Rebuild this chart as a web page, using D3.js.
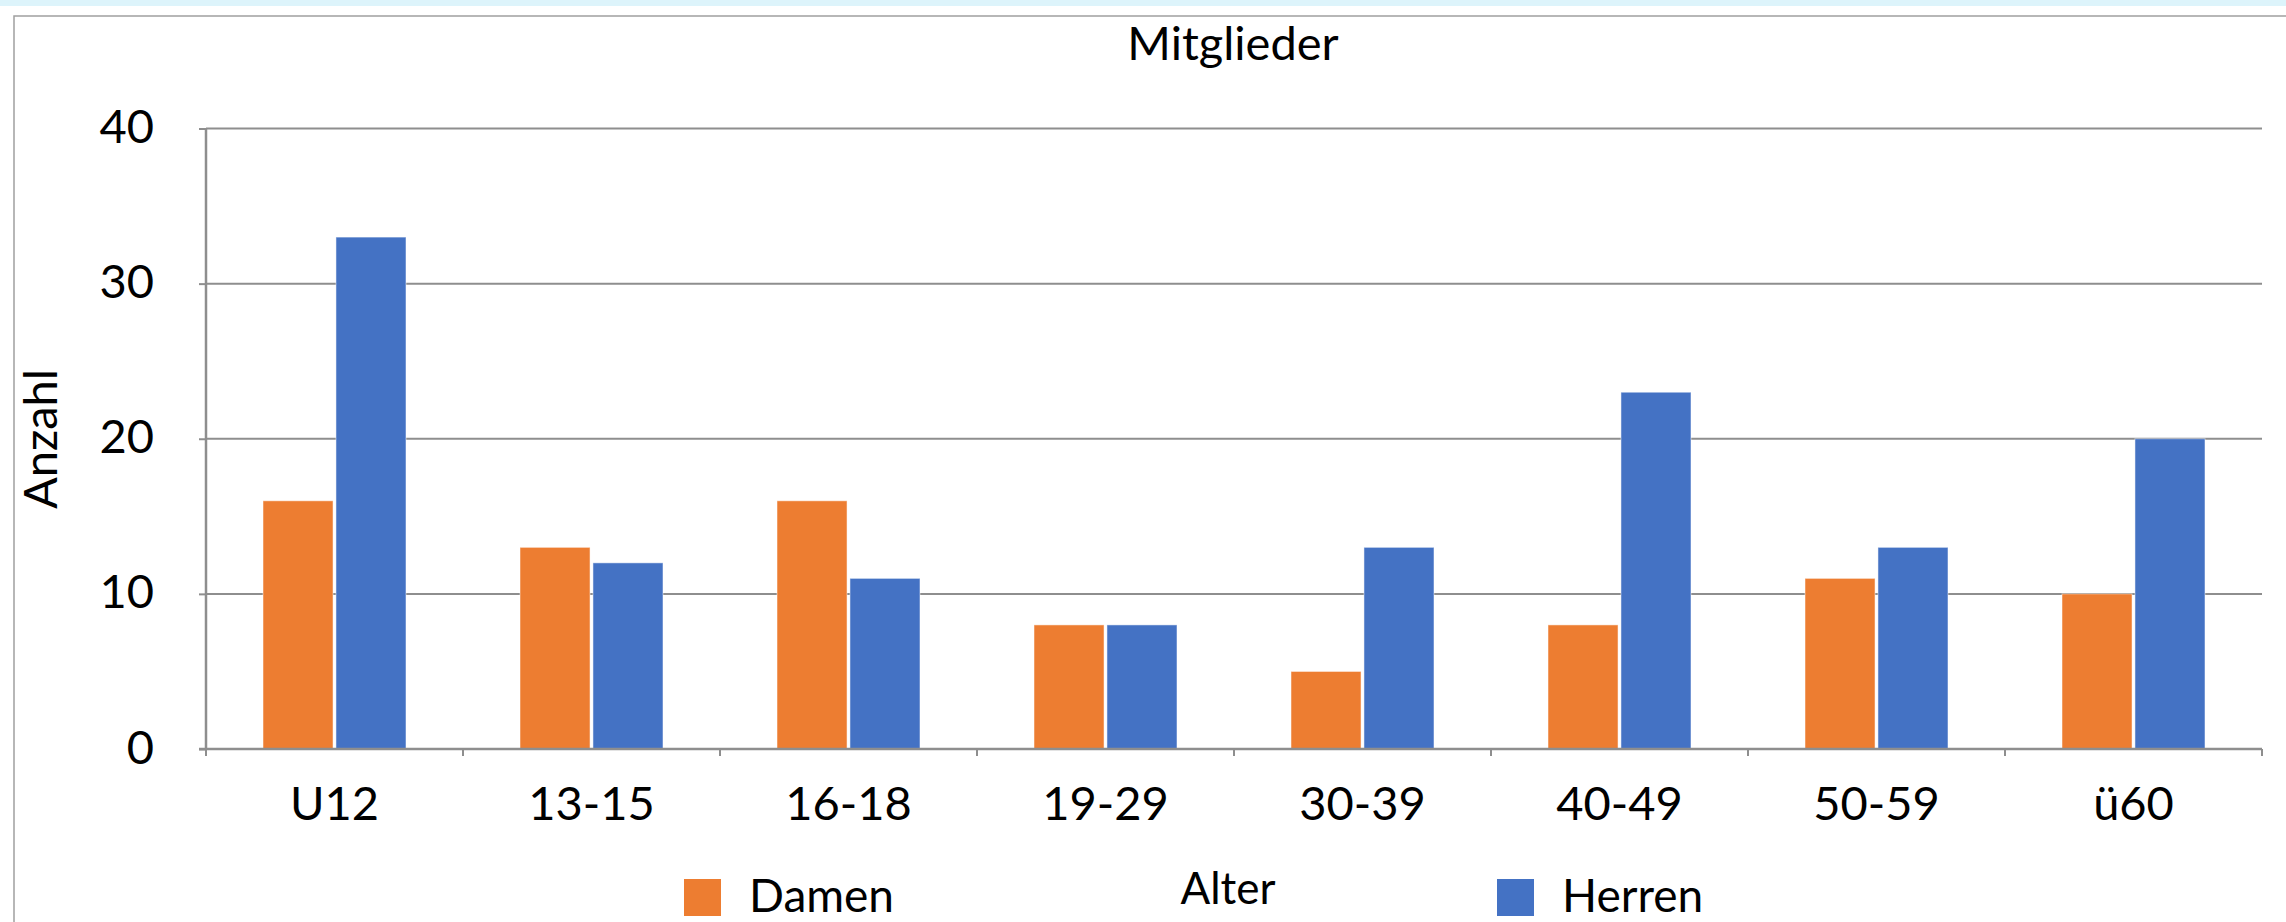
<!DOCTYPE html>
<html>
<head>
<meta charset="utf-8">
<script src="https://cdn.jsdelivr.net/npm/d3@7"></script>
<style>
  html, body { margin: 0; padding: 0; background: #ffffff; }
  svg { display: block; }
  text { font-family: Lato, "Open Sans", "Liberation Sans", sans-serif; fill: #000; }
</style>
</head>
<body>
<svg id="chart" width="2286" height="922"></svg>
<script>
const categories = ["U12", "13-15", "16-18", "19-29", "30-39", "40-49", "50-59", "ü60"];
const seriesNames = ["Damen", "Herren"];
const damen  = [16, 13, 16, 8, 5, 8, 11, 10];
const herren = [33, 12, 11, 8, 13, 23, 13, 20];
const yTicks = [0, 10, 20, 30, 40];
const colors = ["#ED7D31", "#4472C4"];
const title = "Mitglieder";
const xTitle = "Alter";
const yTitle = "Anzahl";

const W = 2286, H = 922;
const svg = d3.select("#chart");

// top light band and outer frame
svg.append("rect").attr("x", 0).attr("y", 0).attr("width", W).attr("height", 6).attr("fill", "#ddf4fb");
svg.append("rect").attr("x", 14).attr("y", 16).attr("width", W + 20).attr("height", H + 20)
  .attr("fill", "#ffffff").attr("stroke", "#a0a0a0").attr("stroke-width", 1.5);

const plot = { left: 206, right: 2262, top: 128.5, bottom: 749 };

const x = d3.scaleBand().domain(categories).range([plot.left, plot.right]).padding(0);
const xInner = d3.scaleBand().domain(seriesNames).range([57, 200]).paddingInner(0.04).paddingOuter(0);
const y = d3.scaleLinear().domain([0, 40]).range([plot.bottom, plot.top]);

// gridlines
svg.append("g").selectAll("line").data(yTicks.filter(d => d > 0)).join("line")
  .attr("x1", plot.left).attr("x2", plot.right)
  .attr("y1", d => y(d)).attr("y2", d => y(d))
  .attr("stroke", "#8e8e8e").attr("stroke-width", 2);

// bars
const data = categories.map((c, i) => ({ cat: c, vals: [damen[i], herren[i]] }));
const groups = svg.append("g").selectAll("g").data(data).join("g")
  .attr("transform", d => `translate(${x(d.cat)},0)`);
groups.selectAll("rect").data(d => d.vals.map((v, j) => ({ v, s: seriesNames[j], j }))).join("rect")
  .attr("x", d => xInner(d.s))
  .attr("width", xInner.bandwidth())
  .attr("y", d => y(d.v))
  .attr("height", d => y(0) - y(d.v))
  .attr("fill", d => colors[d.j])
  .attr("stroke", "#ffffff").attr("stroke-opacity", 0.5).attr("stroke-width", 1);

// y axis
const yAxis = d3.axisLeft(y).tickValues(yTicks).tickSize(7).tickPadding(45).tickFormat(d3.format("d"));
const gy = svg.append("g").attr("transform", `translate(${plot.left},0)`).call(yAxis);
gy.select(".domain").attr("stroke", "#8e8e8e").attr("stroke-width", 2.5)
  .attr("d", `M0,${plot.top}V${plot.bottom}`);
gy.selectAll(".tick line").attr("stroke", "#8e8e8e").attr("stroke-width", 2);
gy.selectAll(".tick text").attr("font-size", 47).attr("font-family", "Lato, 'Open Sans', sans-serif")
  .attr("fill", "#000").attr("dy", "0.3em");

// x axis
const xAxis = d3.axisBottom(x).tickSize(0).tickPadding(38);
const gx = svg.append("g").attr("transform", `translate(0,${plot.bottom})`).call(xAxis);
gx.select(".domain").attr("stroke", "#8e8e8e").attr("stroke-width", 2.5)
  .attr("d", `M${plot.left - 7},0H${plot.right}`);
gx.selectAll(".tick text").attr("font-size", 47).attr("font-family", "Lato, 'Open Sans', sans-serif")
  .attr("fill", "#000");
// boundary tick marks
const bounds = categories.map(c => x(c)).concat([x.range()[1]]);
gx.append("g").selectAll("line").data(bounds).join("line")
  .attr("x1", d => d).attr("x2", d => d).attr("y1", 0).attr("y2", 7)
  .attr("stroke", "#8e8e8e").attr("stroke-width", 2);

// titles
svg.append("text").attr("x", 1233).attr("y", 60).attr("text-anchor", "middle")
  .attr("font-size", 47).text(title);
svg.append("text").attr("transform", "translate(57,439) rotate(-90)").attr("text-anchor", "middle")
  .attr("font-size", 47).text(yTitle);
svg.append("text").attr("x", 1228).attr("y", 904).attr("text-anchor", "middle")
  .attr("font-size", 44).text(xTitle);

// legend
const legendPos = [{ sx: 684, tx: 749 }, { sx: 1497, tx: 1562 }];
const lg = svg.append("g").selectAll("g").data(seriesNames).join("g");
lg.append("rect").attr("x", (d, i) => legendPos[i].sx).attr("y", 879)
  .attr("width", 37).attr("height", 37).attr("fill", (d, i) => colors[i]);
lg.append("text").attr("x", (d, i) => legendPos[i].tx).attr("y", 912)
  .attr("font-size", 46).text(d => d);
</script>
</body>
</html>
